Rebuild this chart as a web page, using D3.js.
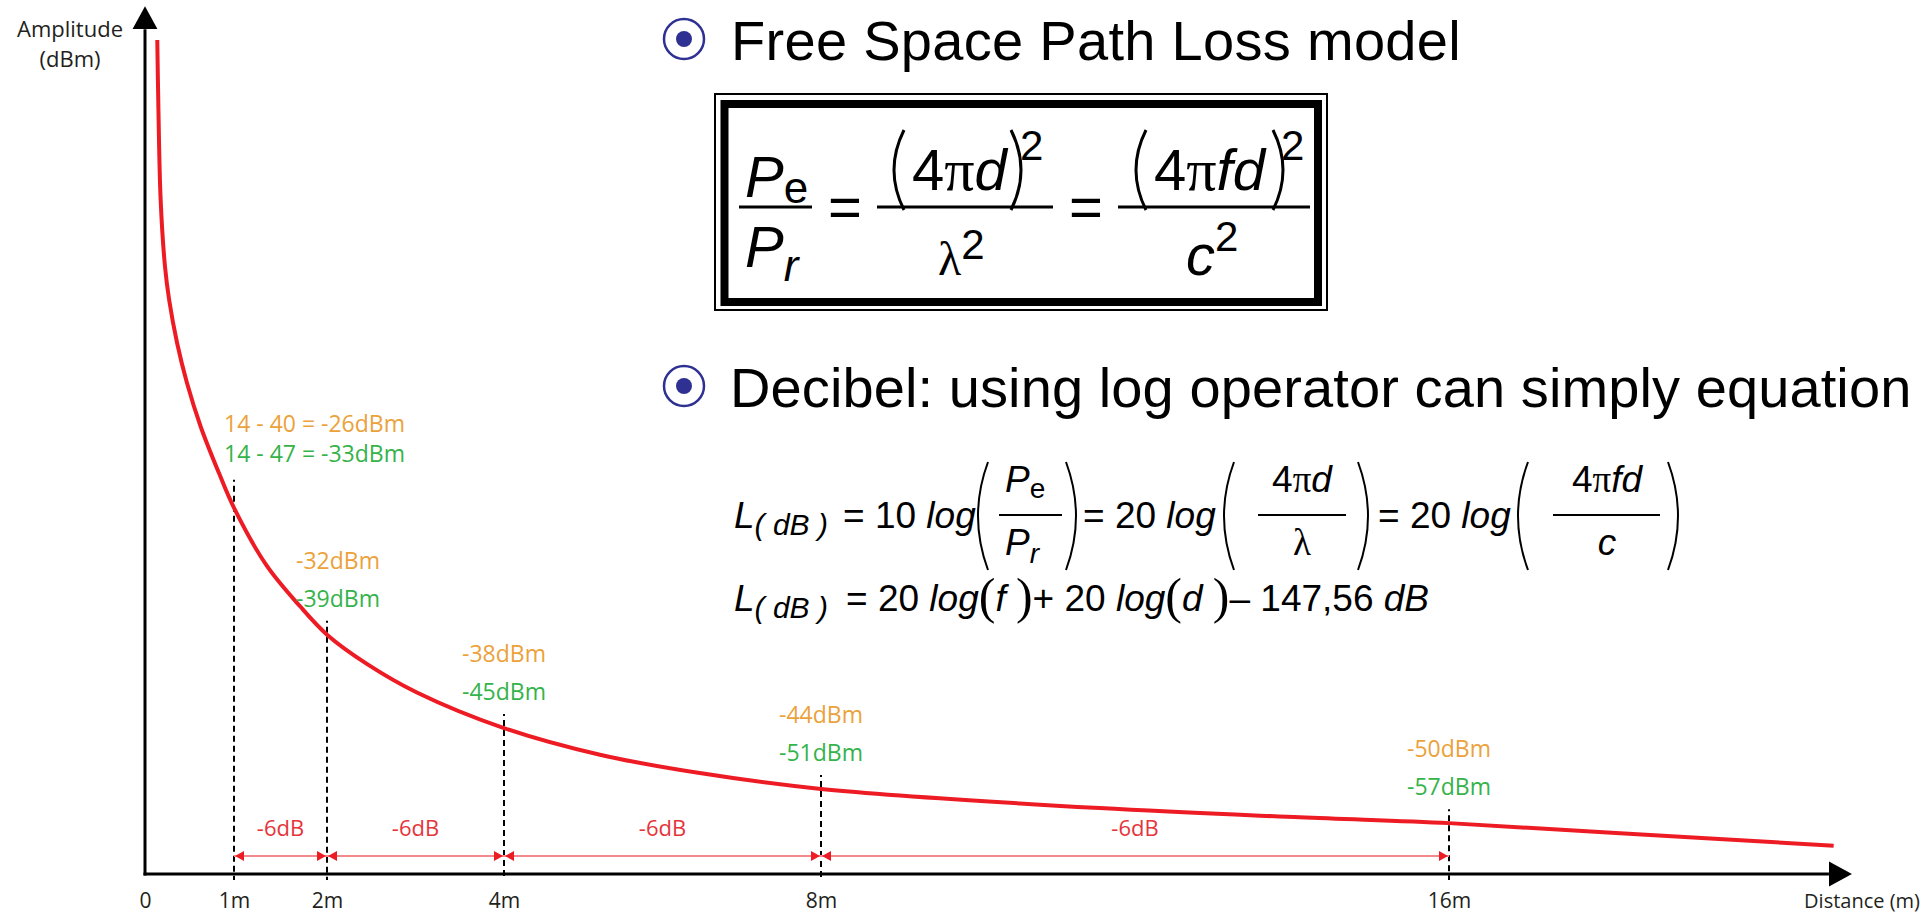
<!DOCTYPE html>
<html>
<head>
<meta charset="utf-8">
<script src="https://cdn.jsdelivr.net/npm/d3@7"></script>
<style>
  body { margin: 0; background: #fff; }
  .lbl { font-family: "Open Sans", sans-serif; }
  .math text { font-family: "Liberation Sans", Arial, sans-serif; fill: #000; }
</style>
</head>
<body>
<svg id="chart" width="1922" height="915"></svg>
<script>
// ---- data ----
var distances  = [0, 1, 2, 4, 8, 16];
var tickLabels = ["0", "1m", "2m", "4m", "8m", "16m"];
var markers    = [1, 2, 4, 8, 16];
var txPower    = 14;                          // dBm
var levelA     = [-26, -32, -38, -44, -50];   // orange
var levelB     = [-33, -39, -45, -51, -57];   // green

// red curve, relative amplitude (0 = x axis, 100 = top of the curve)
var curveDist = [0.138, 0.149, 0.176, 0.225, 0.272, 0.360, 0.471, 0.627, 0.830, 1,
                 1.35, 1.71, 2, 2.45, 3.01, 4, 5.21, 6.47, 8, 11.55, 14.1, 16, 18.18, 20.9];
var curveAmp  = [100, 92.8, 80.8, 72.8, 68.8, 63.7, 58.9, 53.6, 48.1, 43.9,
                 37.0, 32.1, 28.7, 25.2, 21.8, 17.5, 14.3, 12.1, 10.2, 7.9, 6.8, 6.1, 4.9, 3.4];

var colA = "#eba23a", colB = "#35b34a", red = "#ed1c24", redText = "#e6343b", redLine = "#f4898d";

var svg = d3.select("#chart");

// distance axis is drawn by hand in the source, ticks not evenly spaced
var x = d3.scaleLinear().domain(distances).range([145, 234, 327, 504, 821, 1449]);
var y = d3.scaleLinear().domain([0, 100]).range([874, 40]);
var xEnd = 20.84, yTop = 101.3;

var defs = svg.append("defs");
defs.append("marker").attr("id", "axArrow")
    .attr("markerUnits", "userSpaceOnUse")
    .attr("viewBox", "0 -13 23 26")
    .attr("markerWidth", 23).attr("markerHeight", 26)
    .attr("refX", 0).attr("refY", 0)
    .attr("orient", "auto")
  .append("path").attr("d", "M0,-12.5L23,0L0,12.5Z").attr("fill", "#000");

var g = svg.append("g");

// axes
g.append("line")
    .attr("x1", x(0)).attr("x2", x(0))
    .attr("y1", y(0) + 1.5).attr("y2", y(yTop))
    .attr("stroke", "#000").attr("stroke-width", 3)
    .attr("marker-end", "url(#axArrow)");
g.append("line")
    .attr("x1", x(0) - 1.5).attr("x2", x(xEnd))
    .attr("y1", y(0)).attr("y2", y(0))
    .attr("stroke", "#000").attr("stroke-width", 3)
    .attr("marker-end", "url(#axArrow)");

var xAxis = g.append("g")
    .attr("transform", "translate(0," + y(0) + ")")
    .call(d3.axisBottom(x).tickValues(distances)
        .tickFormat(function(d, i) { return tickLabels[i]; })
        .tickSize(0).tickPadding(19));
xAxis.select(".domain").remove();
xAxis.selectAll("text")
    .style("font-family", "'Open Sans', sans-serif")
    .style("font-size", "21px")
    .attr("fill", "#231f20");

g.append("text").attr("class", "lbl")
    .attr("x", 1920).attr("y", 908)
    .attr("text-anchor", "end")
    .style("font-size", "20px").attr("fill", "#231f20")
    .text("Distance (m)");

var yl = g.append("text").attr("class", "lbl")
    .attr("text-anchor", "middle")
    .style("font-size", "22px").attr("fill", "#231f20");
yl.append("tspan").attr("x", 70).attr("y", 37).text("Amplitude");
yl.append("tspan").attr("x", 70).attr("y", 67).text("(dBm)");

// curve
var pts = curveDist.map(function(d, i) { return {d: d, a: curveAmp[i]}; });
var line = d3.line()
    .x(function(p) { return x(p.d); })
    .y(function(p) { return y(p.a); })
    .curve(d3.curveCatmullRom.alpha(0.5));

function ampAt(m) { return curveAmp[curveDist.indexOf(m)]; }

// dashed guides and their labels
var marks = markers.map(function(m, i) {
  var first = i === 0;
  var top = y(ampAt(m)) - (first ? 28 : 14);
  return {m: m, i: i, top: top,
          gy: top - (first ? 18 : 14),
          oy: top - (first ? 48 : 52),
          lx: first ? x(m) - 10 : x(m) + (i === 1 ? 11 : 0)};
});

g.selectAll(".guide").data(marks).enter().append("line")
    .attr("class", "guide")
    .attr("x1", function(d) { return x(d.m); })
    .attr("x2", function(d) { return x(d.m); })
    .attr("y1", function(d) { return d.top; })
    .attr("y2", y(0) + 6)
    .attr("stroke", "#000").attr("stroke-width", 2)
    .attr("stroke-dasharray", "2,4" + ",6,4".repeat(40));

g.append("path").datum(pts)
    .attr("d", line)
    .attr("fill", "none")
    .attr("stroke", red).attr("stroke-width", 4);

function levelText(vals) {
  return function(d) {
    var v = vals[d.i];
    return d.i === 0 ? txPower + " - " + (txPower - v) + " = " + v + "dBm" : v + "dBm";
  };
}
g.selectAll(".la").data(marks).enter().append("text")
    .attr("class", "lbl")
    .attr("x", function(d) { return d.lx; })
    .attr("y", function(d) { return d.oy; })
    .attr("text-anchor", function(d) { return d.i === 0 ? "start" : "middle"; })
    .style("font-size", "23px").attr("fill", colA)
    .text(levelText(levelA));
g.selectAll(".lb").data(marks).enter().append("text")
    .attr("class", "lbl")
    .attr("x", function(d) { return d.lx; })
    .attr("y", function(d) { return d.gy; })
    .attr("text-anchor", function(d) { return d.i === 0 ? "start" : "middle"; })
    .style("font-size", "23px").attr("fill", colB)
    .text(levelText(levelB));

// -6dB spans
var spans = d3.pairs(markers.map(function(m, i) { return {m: m, v: levelA[i]}; }));
var arrowY = 856;
g.selectAll(".span").data(spans).enter().append("line")
    .attr("x1", function(s) { return x(s[0].m); })
    .attr("x2", function(s) { return x(s[1].m); })
    .attr("y1", arrowY).attr("y2", arrowY)
    .attr("stroke", redLine).attr("stroke-width", 2);

var heads = [];
spans.forEach(function(s) {
  heads.push({x: x(s[0].m), dir: -1});
  heads.push({x: x(s[1].m), dir: 1});
});
g.selectAll(".head").data(heads).enter().append("path")
    .attr("d", function(h) {
      var t = h.x - h.dir * 1, b = t - h.dir * 9;
      return "M" + t + "," + arrowY + "L" + b + "," + (arrowY - 5) + "L" + b + "," + (arrowY + 5) + "Z";
    })
    .attr("fill", red);

g.selectAll(".spanLbl").data(spans).enter().append("text")
    .attr("class", "lbl")
    .attr("x", function(s) { return (x(s[0].m) + x(s[1].m)) / 2; })
    .attr("y", 836)
    .attr("text-anchor", "middle")
    .style("font-size", "22px").attr("fill", redText)
    .text(function(s) { return (s[1].v - s[0].v) + "dB"; });

// ---- right side: bullets and formulas ----
var mth = svg.append("g").attr("class", "math");
var serif = "'Liberation Serif', 'Times New Roman', serif";

function bullet(cx, cy) {
  mth.append("circle").attr("cx", cx).attr("cy", cy).attr("r", 20)
      .attr("fill", "none").attr("stroke", "#2e3192").attr("stroke-width", 2.5);
  mth.append("circle").attr("cx", cx).attr("cy", cy).attr("r", 8).attr("fill", "#2e3192");
}
bullet(684, 39);
bullet(684, 386);

mth.append("text").attr("x", 731).attr("y", 60).style("font-size", "56px")
    .style("letter-spacing", "0.3px")
    .text("Free Space Path Loss model");
mth.append("text").attr("x", 730).attr("y", 407).style("font-size", "56px")
    .style("letter-spacing", "0.1px")
    .text("Decibel: using log operator can simply equation");

function txt(x0, y0, parts, anchor) {
  var t = mth.append("text").attr("x", x0).attr("y", y0)
      .attr("text-anchor", anchor || "start");
  parts.forEach(function(p) {
    var s = t.append("tspan").text(p.t).style("font-size", (p.s || 37) + "px");
    if (p.i) s.style("font-style", "italic");
    if (p.f) s.style("font-family", p.f);
    if (p.dy) s.attr("dy", p.dy);
  });
  return t;
}
function rule(x1, x2, yy, w) {
  mth.append("line").attr("x1", x1).attr("x2", x2).attr("y1", yy).attr("y2", yy)
      .attr("stroke", "#000").attr("stroke-width", w || 2);
}
function paren(xx, y1, y2, dir, bow, w) {
  var mid = (y1 + y2) / 2, b = (bow || 20) * dir;
  mth.append("path")
      .attr("d", "M" + xx + "," + y1 + "Q" + (xx - b) + "," + mid + " " + xx + "," + y2)
      .attr("fill", "none").attr("stroke", "#000").attr("stroke-width", w || 2);
}

// boxed ratio
mth.append("rect").attr("x", 715).attr("y", 94).attr("width", 612).attr("height", 216)
    .attr("fill", "none").attr("stroke", "#000").attr("stroke-width", 2);
mth.append("rect").attr("x", 724.5).attr("y", 104).attr("width", 593.5).attr("height", 198)
    .attr("fill", "none").attr("stroke", "#000").attr("stroke-width", 8);

txt(745, 197, [{t: "P", s: 58, i: 1}, {t: "e", s: 44, dy: 6}]);
rule(739, 812, 207, 3);
txt(745, 267, [{t: "P", s: 58, i: 1}, {t: "r", s: 44, i: 1, dy: 14}]);
txt(845, 227, [{t: "=", s: 58}], "middle");
paren(904, 130, 210, 1, 20, 3);
txt(912, 190, [{t: "4", s: 58}, {t: "π", s: 60, f: serif}, {t: "d", s: 58, i: 1}]);
paren(1011, 130, 210, -1, 20, 3);
txt(1020, 160, [{t: "2", s: 42}]);
rule(877, 1053, 207, 3);
txt(938, 275, [{t: "λ", s: 48, f: serif}, {t: "2", s: 42, dy: -16}]);
txt(1086, 227, [{t: "=", s: 58}], "middle");
paren(1146, 130, 210, 1, 20, 3);
txt(1154, 190, [{t: "4", s: 58}, {t: "π", s: 60, f: serif}, {t: "fd", s: 58, i: 1}]);
paren(1273, 130, 210, -1, 20, 3);
txt(1281, 160, [{t: "2", s: 42}]);
rule(1118, 1310, 207, 3);
txt(1186, 275, [{t: "c", s: 58, i: 1}, {t: "2", s: 42, dy: -24}]);

// log form, line 1
txt(734, 528, [{t: "L", i: 1}, {t: "( dB )", s: 30, i: 1, dy: 7}]);
txt(843, 528, [{t: "= 10 "}, {t: "log", i: 1}]);
paren(988, 462, 570, 1);
txt(1005, 492, [{t: "P", i: 1}, {t: "e", s: 28, dy: 6}]);
rule(999, 1062, 515, 2);
txt(1005, 555, [{t: "P", i: 1}, {t: "r", s: 28, i: 1, dy: 8}]);
paren(1066, 462, 570, -1);
txt(1083, 528, [{t: "= 20 "}, {t: "log", i: 1}]);
paren(1234, 462, 570, 1);
txt(1302, 492, [{t: "4"}, {t: "π", f: serif}, {t: "d", i: 1}], "middle");
rule(1258, 1346, 515, 2);
txt(1302, 555, [{t: "λ", f: serif}], "middle");
paren(1358, 462, 570, -1);
txt(1378, 528, [{t: "= 20 "}, {t: "log", i: 1}]);
paren(1528, 462, 570, 1);
txt(1607, 492, [{t: "4"}, {t: "π", f: serif}, {t: "fd", i: 1}], "middle");
rule(1553, 1660, 515, 2);
txt(1607, 555, [{t: "c", i: 1}], "middle");
paren(1668, 462, 570, -1);

// log form, line 2
txt(734, 611, [{t: "L", i: 1}, {t: "( dB )", s: 30, i: 1, dy: 7}]);
txt(846, 611, [{t: "= 20 "}, {t: "log", i: 1}, {t: "(", s: 50, f: serif, dy: 2},
               {t: "f ", i: 1, dy: -2}, {t: ")", s: 50, f: serif, dy: 2}, {t: "+ 20 ", dy: -2},
               {t: "log", i: 1}, {t: "(", s: 50, f: serif, dy: 2}, {t: "d ", i: 1, dy: -2},
               {t: ")", s: 50, f: serif, dy: 2}, {t: "– 147,56 ", dy: -2}, {t: "dB", i: 1}]);
</script>
</body>
</html>
